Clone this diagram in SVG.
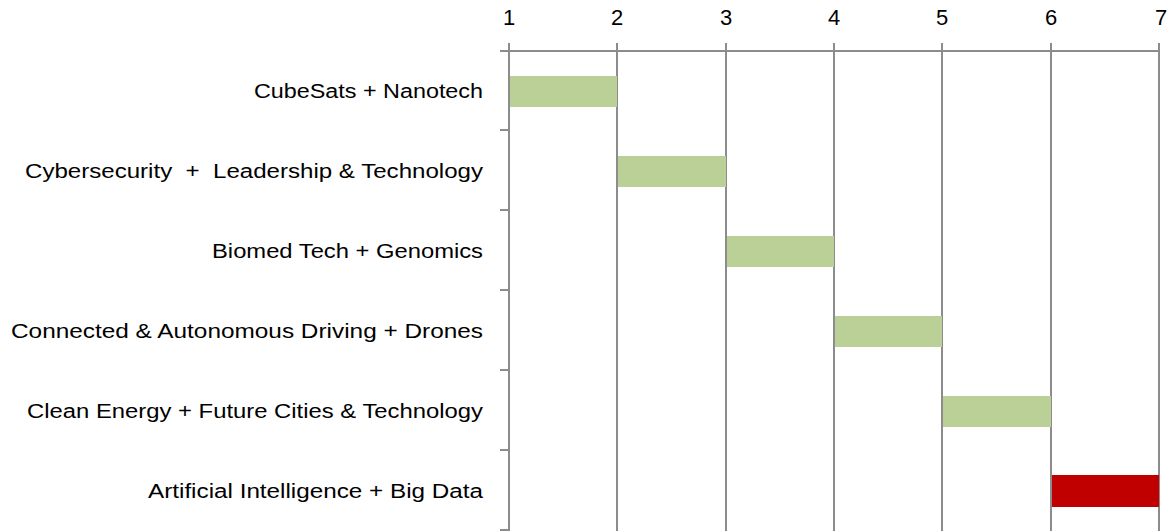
<svg xmlns="http://www.w3.org/2000/svg" width="1172" height="531" viewBox="0 0 1172 531">
<style>
.grid{stroke:#8c8c8c;stroke-width:2;fill:none}
.lbl{font-family:"Liberation Sans",Arial,sans-serif;font-size:20px;fill:#000;text-anchor:end}
.ax{font-family:"Liberation Sans",Arial,sans-serif;font-size:22px;fill:#000;text-anchor:middle}
.g{fill:#bbd097}
.r{fill:#c00000}
</style>
<rect width="1172" height="531" fill="#fff"/>
<g id="axis">
<path class="grid" d="M500 51H1159M509 43V531M617 43V531M726 43V531M834 43V531M942 43V531M1051 43V531M1159 43V531M500 130H509M500 210H509M500 290H509M500 370H509M500 450H509M500 530H509"/>
<text class="ax" x="509" y="25">1</text>
<text class="ax" x="617" y="25">2</text>
<text class="ax" x="726" y="25">3</text>
<text class="ax" x="834" y="25">4</text>
<text class="ax" x="942" y="25">5</text>
<text class="ax" x="1051" y="25">6</text>
<text class="ax" x="1161" y="25">7</text>
</g>
<g id="row1"><text class="lbl" x="483" y="98" textLength="229" lengthAdjust="spacingAndGlyphs">CubeSats + Nanotech</text><rect class="g" x="510" y="76" width="107" height="31"/></g>
<g id="row2"><text class="lbl" x="483" y="178" textLength="458" lengthAdjust="spacingAndGlyphs" xml:space="preserve">Cybersecurity  +  Leadership &amp; Technology</text><rect class="g" x="618" y="156" width="108" height="31"/></g>
<g id="row3"><text class="lbl" x="483" y="258" textLength="271" lengthAdjust="spacingAndGlyphs">Biomed Tech + Genomics</text><rect class="g" x="727" y="236" width="107" height="31"/></g>
<g id="row4"><text class="lbl" x="483" y="338" textLength="472" lengthAdjust="spacingAndGlyphs">Connected &amp; Autonomous Driving + Drones</text><rect class="g" x="835" y="316" width="107" height="31"/></g>
<g id="row5"><text class="lbl" x="483" y="418" textLength="456" lengthAdjust="spacingAndGlyphs">Clean Energy + Future Cities &amp; Technology</text><rect class="g" x="943" y="396" width="108" height="31"/></g>
<g id="row6"><text class="lbl" x="483" y="498" textLength="335" lengthAdjust="spacingAndGlyphs">Artificial Intelligence + Big Data</text><rect class="r" x="1052" y="475" width="107" height="32"/></g>
</svg>
